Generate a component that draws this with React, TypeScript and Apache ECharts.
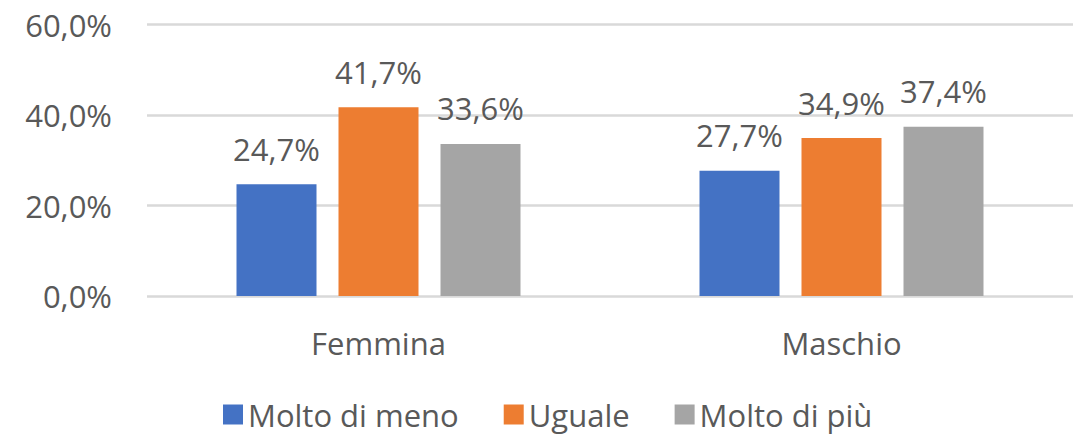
import React, { useEffect, useRef } from "react";
import * as echarts from "echarts";

const categories = ["Femmina", "Maschio"];
const seriesNames = ["Molto di meno", "Uguale", "Molto di più"];
const molteDiMeno = [24.7, 27.7];
const uguale = [41.7, 34.9];
const moltoDiPiu = [33.6, 37.4];
const colors = ["#4472C4", "#ED7D31", "#A5A5A5"];
const yTicks = { min: 0, max: 60, interval: 20 };

const FONT = "'Open Sans', 'Noto Sans', sans-serif";
const TEXT = "#595959";
const FS = 31;
const fmt = (v: number) => v.toFixed(1).replace(".", ",") + "%";

export default function App() {
  const ref = useRef<HTMLDivElement>(null);
  useEffect(() => {
    document.body.style.margin = "0";
    const chart = echarts.init(ref.current!, null, { renderer: "svg" });
    const data = [molteDiMeno, uguale, moltoDiPiu];
    chart.setOption({
      animation: false,
      textStyle: { fontFamily: FONT },
      grid: { left: 147, right: 6, top: 24.5, bottom: 142, containLabel: false },
      legend: {
        top: 399,
        left: 223,
        padding: 0,
        itemWidth: 20,
        itemHeight: 20,
        itemGap: 45,
        icon: "rect",
        textStyle: { fontSize: FS, color: TEXT, fontFamily: FONT },
        data: seriesNames,
      },
      xAxis: {
        type: "category",
        data: categories,
        axisLine: { show: false },
        axisTick: { show: false },
        axisLabel: { fontSize: FS, color: TEXT, margin: 31, fontFamily: FONT },
      },
      yAxis: {
        type: "value",
        min: yTicks.min,
        max: yTicks.max,
        interval: yTicks.interval,
        axisLine: { show: false },
        axisTick: { show: false },
        splitLine: { lineStyle: { color: "#D9D9D9", width: 2.5 } },
        axisLabel: {
          fontSize: FS,
          color: TEXT,
          margin: 35,
          fontFamily: FONT,
          formatter: (v: number) => fmt(v),
        },
      },
      series: seriesNames.map((name, i) => ({
        name,
        type: "bar",
        data: data[i],
        barWidth: 80,
        barGap: "27.5%",
        itemStyle: { color: colors[i] },
        label: {
          show: true,
          position: "top",
          distance: 20,
          fontSize: FS,
          color: TEXT,
          fontFamily: FONT,
          formatter: (p: any) => fmt(p.value),
        },
      })),
    });
    return () => chart.dispose();
  }, []);
  return <div ref={ref} style={{ width: 1079, height: 438 }} />;
}
